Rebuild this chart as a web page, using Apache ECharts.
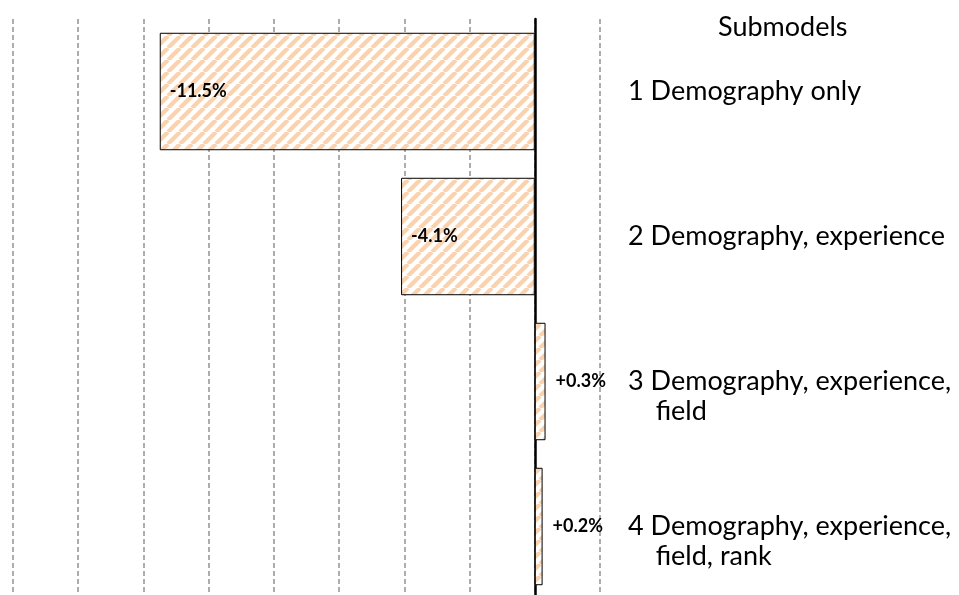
<!DOCTYPE html>
<html>
<head>
<meta charset="utf-8">
<script src="https://cdn.jsdelivr.net/npm/echarts@6/dist/echarts.min.js"></script>
<style>
  html, body { margin: 0; padding: 0; background: #fff; }
  #main { width: 959px; height: 595px; }
</style>
</head>
<body>
<div id="main"></div>
<script>
var myChart = echarts.init(document.getElementById('main'));

// submodels, top to bottom
var categories = [
    '1 Demography only',
    '2 Demography, experience',
    '3 Demography, experience,\n    field',
    '4 Demography, experience,\n    field, rank'
];
// change in gap (%)
var values = [-11.5, -4.1, 0.33, 0.24];
var xMin = -16, xMax = 2, xStep = 2;

// diagonal stripes like the original fill
var makeStripes = function () {
    var s = 12;
    var c = document.createElement('canvas');
    c.width = s; c.height = s;
    var ctx = c.getContext('2d');
    ctx.fillStyle = '#fff';
    ctx.fillRect(0, 0, s, s);
    ctx.strokeStyle = '#fbd2ae';
    ctx.lineWidth = 4.2;
    for (var k = -1; k <= 1; k++) {
        ctx.beginPath();
        ctx.moveTo(k * s, s);
        ctx.lineTo(k * s + s, 0);
        ctx.stroke();
    }
    return c;
};
var stripes = makeStripes();

var font = 'Lato';

option = {
    backgroundColor: '#fff',
    animation: false,
    title: {
        text: 'Submodels',
        left: 713,
        top: 9,
        textStyle: { fontFamily: font, fontWeight: 'normal', fontSize: 27, color: '#000' }
    },
    grid: { left: 13, width: 587, top: 19, height: 580, containLabel: false, outerBoundsMode: 'none' },
    xAxis: {
        type: 'value',
        min: xMin,
        max: xMax,
        interval: xStep,
        axisLine: { show: false },
        axisTick: { show: false },
        axisLabel: { show: false },
        splitLine: { show: true, lineStyle: { color: '#929292', width: 1.5, type: [5, 3] } }
    },
    yAxis: [
        {
            type: 'category',
            data: categories,
            inverse: true,
            axisLine: { show: true, onZero: true, lineStyle: { color: '#000', width: 2.5 } },
            axisTick: { show: false },
            axisLabel: { show: false }
        },
        {
            type: 'category',
            data: categories,
            inverse: true,
            position: 'right',
            axisLine: { show: false, onZero: false },
            axisTick: { show: false },
            axisLabel: {
                margin: 28,
                align: 'left',
                fontFamily: font,
                fontSize: 27,
                lineHeight: 30,
                color: '#000',
                // keep first line level with the bar centre
                formatter: function (v) { return v.indexOf('\n') >= 0 ? '\n' + v : v; }
            }
        }
    ],
    series: [
        {
            type: 'bar',
            yAxisIndex: 0,
            data: values.map(function (v) {
                return {
                    value: v,
                    label: v < 0 ? { position: 'insideLeft', distance: 10 } : { position: 'right', distance: 10 }
                };
            }),
            barCategoryGap: '19%',
            itemStyle: {
                color: { image: stripes, repeat: 'repeat' },
                borderColor: '#000',
                borderWidth: 1
            },
            label: {
                show: true,
                fontFamily: font,
                fontWeight: 'bold',
                fontSize: 18,
                color: '#000',
                formatter: function (p) {
                    var v = p.value;
                    return (v > 0 ? '+' : '') + v.toFixed(1) + '%';
                }
            }
        }
    ]
};

myChart.setOption(option);
</script>
</body>
</html>
